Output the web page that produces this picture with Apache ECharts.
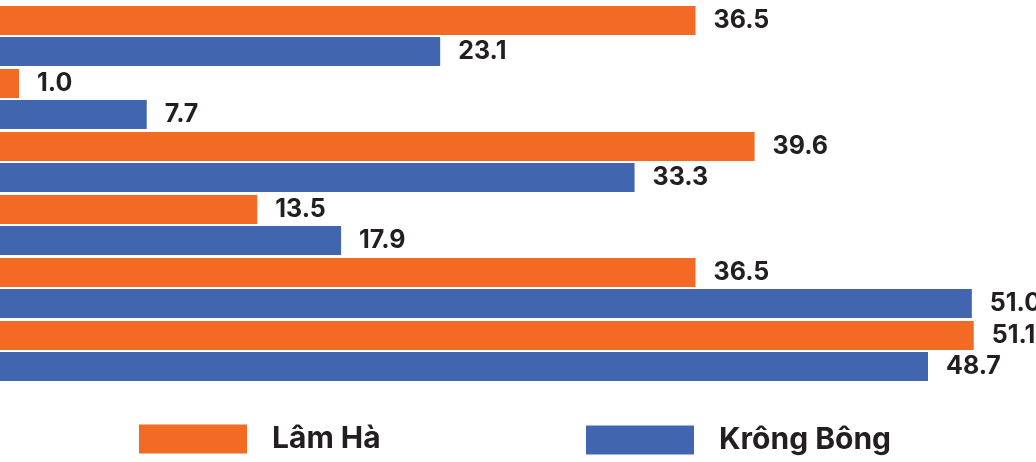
<!DOCTYPE html>
<html>
<head>
<meta charset="utf-8">
<script src="https://cdn.jsdelivr.net/npm/echarts@6/dist/echarts.min.js"></script>
<style>
  html, body { margin: 0; padding: 0; background: #fff; }
  #chart { width: 1036px; height: 462px; }
</style>
</head>
<body>
<div id="chart"></div>
<script>
// Six groups, two districts compared per group (top to bottom)
const categories = ['Nhóm 1', 'Nhóm 2', 'Nhóm 3', 'Nhóm 4', 'Nhóm 5', 'Nhóm 6'];
const lamHa = [36.5, 1.0, 39.6, 13.5, 36.5, 51.1];
const krongBong = [23.1, 7.7, 33.3, 17.9, 51.0, 48.7];
const seriesNames = ['Lâm Hà', 'Krông Bông'];

const ORANGE = '#F26A23';
const BLUE = '#4166AF';
const TEXT = '#231F20';
const FONT = 'Inter, "Noto Sans", sans-serif';

const chart = echarts.init(document.getElementById('chart'), null, { renderer: 'canvas' });

const labelStyle = {
  show: true,
  position: 'right',
  distance: 18,
  color: TEXT,
  fontFamily: FONT,
  fontWeight: 'bold',
  fontSize: 25,
  formatter: p => p.value.toFixed(1)
};

const legendText = {
  color: TEXT,
  fontFamily: FONT,
  fontWeight: 'bold',
  fontSize: 30,
  padding: [0, 0, 0, 20]
};

chart.setOption({
  animation: false,
  grid: { left: 0, top: 4.5, width: 1029, height: 378, containLabel: false },
  xAxis: {
    type: 'value',
    min: 0,
    max: 54,
    show: false
  },
  yAxis: {
    type: 'category',
    data: categories,
    inverse: true,
    show: false
  },
  legend: [
    {
      data: [seriesNames[0]],
      left: 139, top: 424,
      padding: 0,
      itemWidth: 108, itemHeight: 29,
      icon: 'rect',
      textStyle: legendText
    },
    {
      data: [seriesNames[1]],
      left: 586, top: 425,
      padding: 0,
      itemWidth: 108, itemHeight: 29,
      icon: 'rect',
      textStyle: legendText
    }
  ],
  series: [
    {
      name: seriesNames[0],
      type: 'bar',
      data: lamHa,
      barWidth: 29,
      barGap: '7%',
      itemStyle: { color: ORANGE },
      label: labelStyle
    },
    {
      name: seriesNames[1],
      type: 'bar',
      data: krongBong,
      barWidth: 29,
      barGap: '7%',
      itemStyle: { color: BLUE },
      label: labelStyle
    }
  ]
});
</script>
</body>
</html>
